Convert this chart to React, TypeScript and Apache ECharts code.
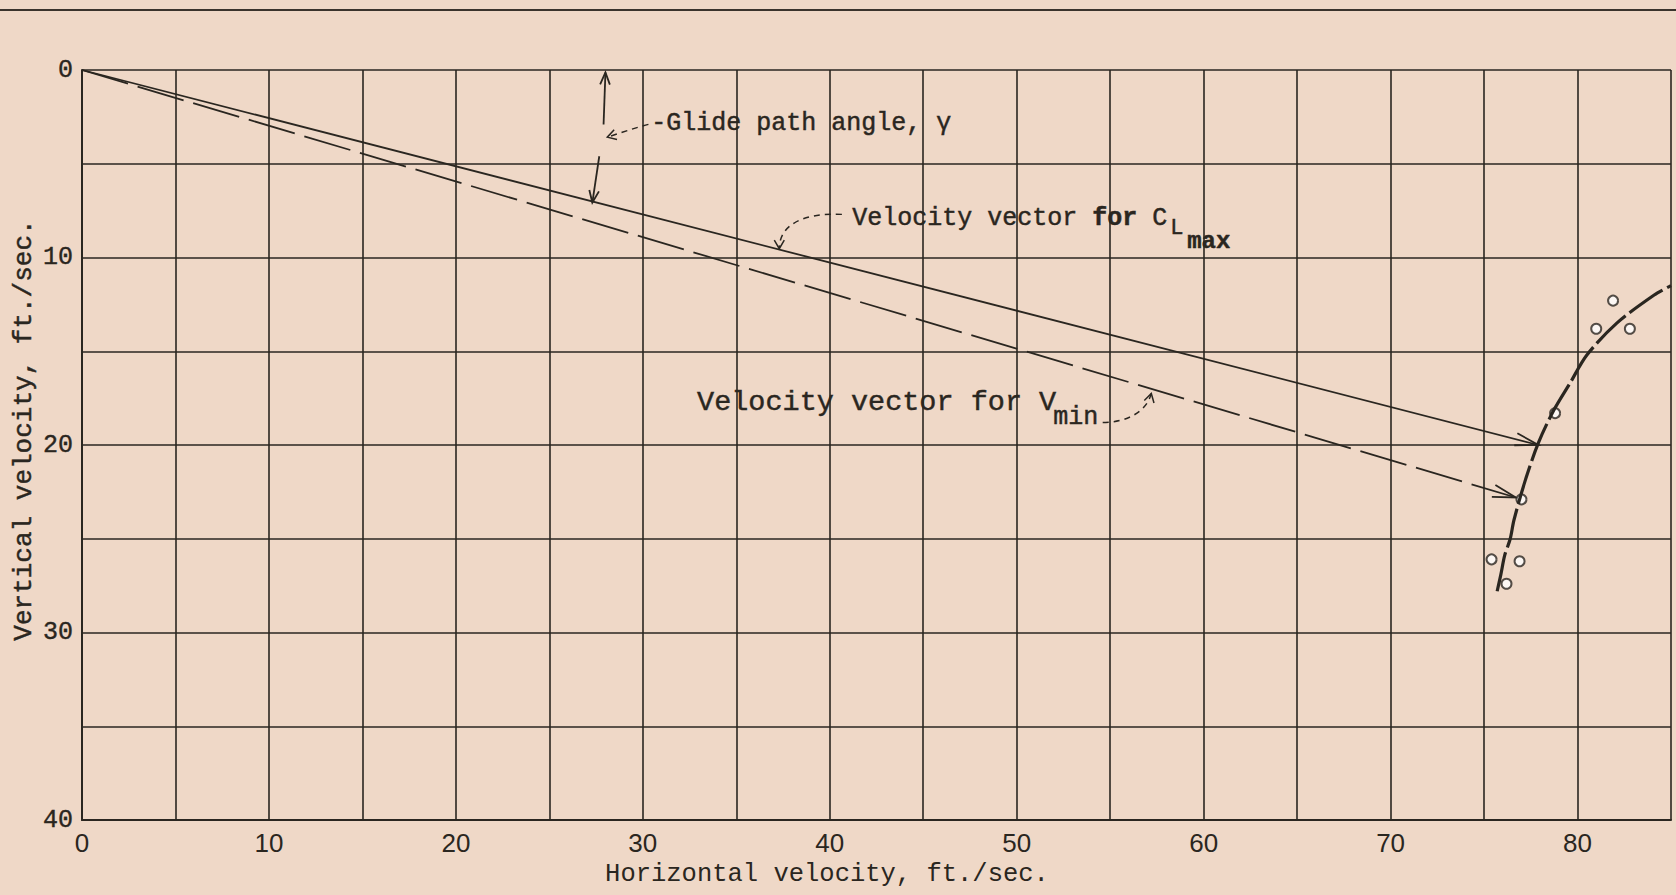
import React, { useEffect, useRef } from "react";
import * as echarts from "echarts";

// ---- Axis ranges / ticks ----
const X_MIN = 0;
const X_MAX = 85;
const Y_MIN = 0;
const Y_MAX = 40;
const GRID_STEP = 5;
const xTickLabels = [0, 10, 20, 30, 40, 50, 60, 70, 80];
const yTickLabels = [0, 10, 20, 30, 40];

// ---- Data (ft./sec.) ----
const clmaxVector = [
  [0, 0],
  [77.9, 20.0],
];
const vminVector = [
  [0, 0],
  [76.7, 22.8],
];
const polarCurve = [
  [75.7, 27.8],
  [75.9, 26.9],
  [76.1, 25.9],
  [76.4, 25.0],
  [76.6, 24.0],
  [77.2, 21.9],
  [77.9, 19.9],
  [78.7, 18.2],
  [79.6, 16.7],
  [80.5, 15.2],
  [82.1, 13.5],
  [84.1, 12.0],
  [85.0, 11.5],
];
const testPoints = [
  [81.9, 12.3],
  [81.0, 13.8],
  [82.8, 13.8],
  [78.8, 18.3],
  [77.0, 22.9],
  [75.4, 26.1],
  [76.9, 26.2],
  [76.2, 27.4],
];

// ---- Annotation anchors (data units) ----
const glideUpper = [
  [27.9, 2.91],
  [28.0, 0.13],
];
const glideLower = [
  [27.67, 4.6],
  [27.3, 7.07],
];
const glideTextAt = [30.45, 2.85];
const glideConnector = [
  [30.3, 2.9],
  [29.5, 3.1],
  [28.7, 3.4],
  [28.1, 3.58],
];
const clmaxTextAt = [41.2, 7.9];
const clmaxConnector = [
  [40.65, 7.7],
  [38.6, 7.6],
  [37.3, 8.25],
  [37.3, 9.53],
];
const vminTextAt = [32.9, 17.75];
const vminConnector = [
  [54.6, 18.8],
  [55.9, 18.8],
  [56.95, 18.22],
  [57.2, 17.25],
];

const INK = "#2a2620";
const BG = "#efd8c7";
const MONO = "'Liberation Mono', 'DejaVu Sans Mono', monospace";
const SANS = "'Liberation Sans', 'DejaVu Sans', sans-serif";

function wings(tip: number[], from: number[], len: number, deg: number) {
  const a = Math.atan2(from[1] - tip[1], from[0] - tip[0]);
  const r = (deg * Math.PI) / 180;
  return [
    [tip[0] + len * Math.cos(a + r), tip[1] + len * Math.sin(a + r)],
    tip,
    [tip[0] + len * Math.cos(a - r), tip[1] + len * Math.sin(a - r)],
  ];
}

export default function App() {
  const ref = useRef<HTMLDivElement>(null);

  useEffect(() => {
    if (!ref.current) return;
    const chart = echarts.init(ref.current, null, { renderer: "svg" });

    chart.setOption({
      animation: false,
      backgroundColor: BG,
      grid: { left: 82, right: 5, top: 70, bottom: 75, containLabel: false },
      xAxis: {
        type: "value",
        min: X_MIN,
        max: X_MAX,
        interval: GRID_STEP,
        axisLine: { onZero: false, lineStyle: { color: INK, width: 2 } },
        axisTick: { show: false },
        splitLine: { show: true, lineStyle: { color: INK, width: 1.6 } },
        axisLabel: {
          margin: 10,
          color: INK,
          fontSize: 26,
          fontFamily: SANS,
          formatter: (v: number) => (xTickLabels.includes(v) ? String(v) : ""),
        },
      },
      yAxis: {
        type: "value",
        inverse: true,
        min: Y_MIN,
        max: Y_MAX,
        interval: GRID_STEP,
        axisLine: { show: true, lineStyle: { color: INK, width: 2 } },
        axisTick: { show: false },
        splitLine: { show: true, lineStyle: { color: INK, width: 1.6 } },
        axisLabel: {
          margin: 9,
          color: INK,
          fontSize: 25,
          fontFamily: MONO,
          textBorderColor: INK,
          textBorderWidth: 0.4,
          formatter: (v: number) => (yTickLabels.includes(v) ? String(v) : ""),
        },
      },
      series: [
        {
          name: "Velocity vector for CLmax",
          type: "line",
          data: clmaxVector,
          symbol: "none",
          lineStyle: { color: INK, width: 1.8 },
        },
        {
          name: "Velocity vector for Vmin",
          type: "line",
          data: vminVector,
          symbol: "none",
          lineStyle: { color: INK, width: 1.8, type: [48, 10] },
        },
        {
          name: "Polar",
          type: "line",
          data: polarCurve,
          symbol: "none",
          smooth: 0.3,
          lineStyle: { color: INK, width: 3.2, type: [40, 5] },
        },
        {
          name: "Test points",
          type: "scatter",
          data: testPoints,
          symbol: "emptyCircle",
          symbolSize: 10,
          itemStyle: { color: INK, borderColor: INK, borderWidth: 1.6 },
        },
      ],
    });

    const P = (pt: number[]) =>
      chart.convertToPixel({ gridIndex: 0 }, pt) as unknown as number[];

    const lineStyle = { stroke: INK, lineWidth: 1.8, fill: "none" };
    const dashStyle = { stroke: INK, lineWidth: 1.5, fill: "none", lineDash: [6, 5] };
    const typeInk = { fill: INK, stroke: INK, lineWidth: 0.45 };

    const els: any[] = [];
    // page rule
    els.push({
      type: "line",
      shape: { x1: 0, y1: 10, x2: 1676, y2: 10 },
      style: { stroke: "#3a332c", lineWidth: 2.2 },
    });

    // vector arrowheads
    [clmaxVector, vminVector].forEach((v) => {
      const tip = P(v[1]);
      const from = P(v[0]);
      els.push({ type: "polyline", shape: { points: wings(tip, from, 24, 15) }, style: lineStyle });
    });

    // glide angle arrows
    [glideUpper, glideLower].forEach((seg) => {
      const a = P(seg[0]);
      const b = P(seg[1]);
      els.push({ type: "line", shape: { x1: a[0], y1: a[1], x2: b[0], y2: b[1] }, style: lineStyle });
      els.push({ type: "polyline", shape: { points: wings(b, a, 13, 22) }, style: lineStyle });
    });

    // dashed connectors
    [glideConnector, clmaxConnector, vminConnector].forEach((c) => {
      const s = P(c[0]);
      const c1 = P(c[1]);
      const c2 = P(c[2]);
      const e = P(c[3]);
      els.push({
        type: "bezierCurve",
        shape: { x1: s[0], y1: s[1], cpx1: c1[0], cpy1: c1[1], cpx2: c2[0], cpy2: c2[1], x2: e[0], y2: e[1] },
        style: dashStyle,
      });
      els.push({
        type: "polyline",
        shape: { points: wings(e, c2, 10, 30) },
        style: { stroke: INK, lineWidth: 1.5, fill: "none" },
      });
    });

    // texts
    const g = P(glideTextAt);
    els.push({
      type: "text",
      x: g[0],
      y: g[1],
      style: {
        text: "-Glide path angle, γ",
        fontSize: 25,
        fontFamily: MONO,
        ...typeInk,
        align: "left",
        verticalAlign: "middle",
      },
    });

    const cl = P(clmaxTextAt);
    const ch = 25 * 0.6;
    els.push({
      type: "text",
      x: cl[0],
      y: cl[1],
      style: {
        text: "{n|Velocity vector }{b|for}{n| C}",
        ...typeInk,
        align: "left",
        verticalAlign: "middle",
        rich: {
          n: { fontSize: 25, fontFamily: MONO, ...typeInk },
          b: { fontSize: 25, fontFamily: MONO, ...typeInk, fontWeight: "bold" },
        },
      },
    });
    els.push({
      type: "text",
      x: cl[0] + 21 * ch + 3,
      y: cl[1] + 10,
      style: { text: "L", fontSize: 22, fontFamily: MONO, ...typeInk, align: "left", verticalAlign: "middle" },
    });
    els.push({
      type: "text",
      x: cl[0] + 21 * ch + 20,
      y: cl[1] + 23,
      style: {
        text: "max",
        fontSize: 24,
        fontWeight: "bold",
        fontFamily: MONO,
        ...typeInk,
        align: "left",
        verticalAlign: "middle",
      },
    });

    const vm = P(vminTextAt);
    const vch = 28.5 * 0.6;
    els.push({
      type: "text",
      x: vm[0],
      y: vm[1],
      style: {
        text: "Velocity vector for V",
        fontSize: 28.5,
        fontFamily: MONO,
        ...typeInk,
        align: "left",
        verticalAlign: "middle",
      },
    });
    els.push({
      type: "text",
      x: vm[0] + 21 * vch - 3,
      y: vm[1] + 15,
      style: { text: "min", fontSize: 25, fontFamily: MONO, ...typeInk, align: "left", verticalAlign: "middle" },
    });

    // axis titles
    els.push({
      type: "text",
      x: 827,
      y: 874,
      style: {
        text: "Horizontal velocity, ft./sec.",
        fontSize: 25.5,
        fontFamily: MONO,
        fill: INK,
        align: "center",
        verticalAlign: "middle",
      },
    });
    els.push({
      type: "text",
      x: 23.5,
      y: 430,
      rotation: Math.PI / 2,
      style: {
        text: "Vertical velocity, ft./sec.",
        fontSize: 26,
        fontFamily: MONO,
        ...typeInk,
        align: "center",
        verticalAlign: "middle",
      },
    });

    chart.setOption({ graphic: { elements: els } });

    return () => chart.dispose();
  }, []);

  return (
    <div
      ref={ref}
      style={{ position: "absolute", left: 0, top: 0, width: 1676, height: 895 }}
    />
  );
}
